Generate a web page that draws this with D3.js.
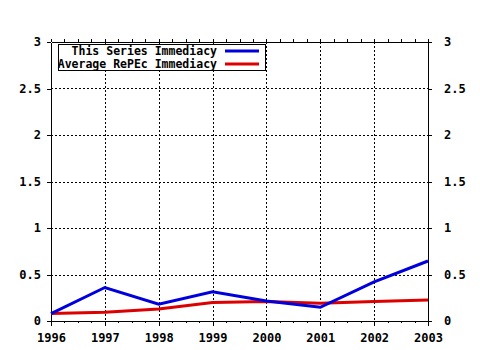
<!DOCTYPE html>
<html><head><meta charset="utf-8">
<script src="https://cdn.jsdelivr.net/npm/d3@7"></script>
<style>body{margin:0;background:#fff}svg{display:block}</style>
</head><body>
<script>
const years = [1996, 1997, 1998, 1999, 2000, 2001, 2002, 2003];
const seriesImmediacy = [0.08, 0.36, 0.18, 0.315, 0.215, 0.147, 0.42, 0.645];
const averageImmediacy = [0.08, 0.095, 0.13, 0.20, 0.21, 0.19, 0.21, 0.225];
const yTicks = [0, 0.5, 1, 1.5, 2, 2.5, 3];
const yTickLabels = ["0", "0.5", "1", "1.5", "2", "2.5", "3"];
const legendLabels = ["This Series Immediacy", "Average RePEc Immediacy"];
const colors = ["#0000dd", "#dd0000"];

const W = 480, H = 350;
const svg = d3.select("body").append("svg").attr("width", W).attr("height", H);
const L = 51, R = 428, T = 42, B = 321;
const x = d3.scaleLinear().domain([1996, 2003]).range([L, R]);
const y = d3.scaleLinear().domain([0, 3]).range([B, T]);
const font = "'DejaVu Sans Mono', monospace";

// grid
const g = svg.append("g").attr("stroke", "#000").attr("stroke-width", 1).attr("stroke-dasharray", "2,2");
years.slice(1, -1).forEach(v => g.append("line").attr("x1", Math.round(x(v)) + 0.5).attr("x2", Math.round(x(v)) + 0.5).attr("y1", T).attr("y2", B));
yTicks.slice(1, -1).forEach(v => g.append("line").attr("x1", L).attr("x2", R).attr("y1", Math.round(y(v)) + 0.5).attr("y2", Math.round(y(v)) + 0.5));

// axes
const minor = d3.range(1996, 2003.001, 0.25);
const axB = d3.axisBottom(x).tickValues(years).tickFormat(d3.format("d")).tickSize(5).tickSizeOuter(0);
const axT = d3.axisTop(x).tickValues(minor).tickFormat("").tickSize(3).tickSizeOuter(0);
const axBm = d3.axisBottom(x).tickValues(minor).tickFormat("").tickSize(2).tickSizeOuter(0);
const axL = d3.axisLeft(y).tickValues(yTicks).tickFormat((d, i) => yTickLabels[i]).tickSize(4).tickSizeOuter(0);
const axR = d3.axisRight(y).tickValues(yTicks).tickFormat((d, i) => yTickLabels[i]).tickSize(4).tickSizeOuter(0);

function style(sel) {
  sel.selectAll("path,line").attr("stroke", "#000").attr("shape-rendering", "crispEdges");
  sel.selectAll("text").attr("fill", "#000").style("font-family", font).style("font-weight", "bold").style("font-size", "12px");
}
svg.append("g").attr("transform", `translate(0,${B})`).call(axBm).call(style);
svg.append("g").attr("transform", `translate(0,${B})`).call(axB).call(style).selectAll("text").attr("dy", "1.1em");
svg.append("g").attr("transform", `translate(0,${T})`).call(axT).call(style);
svg.append("g").attr("transform", `translate(${L},0)`).call(axL).call(style).selectAll("text").attr("x", -10);
svg.append("g").attr("transform", `translate(${R},0)`).call(axR).call(style).selectAll("text").attr("x", 16);

// lines
const line = d3.line().x((d, i) => x(years[i])).y(d => y(d));
[averageImmediacy, seriesImmediacy].forEach((s, k) => {
  svg.append("path").datum(s).attr("d", line).attr("fill", "none")
    .attr("stroke", k === 0 ? colors[1] : colors[0]).attr("stroke-width", 3).attr("stroke-linejoin", "miter");
});

// legend
const lg = svg.append("g");
lg.append("rect").attr("x", 58.5).attr("y", 44.5).attr("width", 207).attr("height", 26).attr("fill", "#fff").attr("stroke", "#000");
legendLabels.forEach((t, i) => {
  const yy = 51 + i * 13;
  lg.append("text").attr("x", 217).attr("y", yy).attr("dy", "0.35em").attr("text-anchor", "end")
    .style("font-family", font).style("font-weight", "bold").style("font-size", "11.5px").text(t);
  lg.append("line").attr("x1", 225).attr("x2", 259).attr("y1", yy).attr("y2", yy).attr("stroke", colors[i]).attr("stroke-width", 3);
});
</script>
</body></html>
